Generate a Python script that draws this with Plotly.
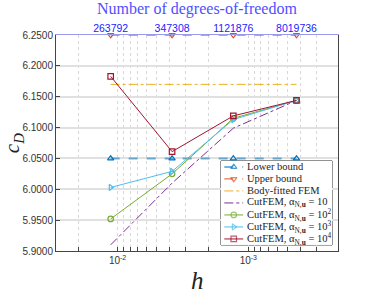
import numpy as np
import plotly.graph_objects as go

h = [0.01130, 0.00383, 0.001302, 0.000428]
dof_labels = ["263792", "347308", "1121876", "8019736"]
lower = [6.05, 6.05, 6.05, 6.05]
upper = [6.25, 6.25, 6.25, 6.25]
body_fitted = [6.17, 6.17, 6.17, 6.17]
cut10 = [5.910, 6.010, 6.099, 6.144]
cut100 = [5.952, 6.025, 6.115, 6.144]
cut1000 = [6.003, 6.029, 6.113, 6.144]
cut10000 = [6.183, 6.061, 6.119, 6.144]
y_ticks = [5.90, 5.95, 6.00, 6.05, 6.10, 6.15, 6.20, 6.25]

C_BLUE = "rgb(0,114,189)"
C_ORANGE = "rgb(217,83,25)"
C_YELLOW = "rgb(237,177,32)"
C_PURPLE = "rgb(126,47,142)"
C_GREEN = "rgb(119,172,48)"
C_CYAN = "rgb(77,190,238)"
C_RED = "rgb(162,20,47)"

series = [
    ("Lower bound", lower, C_BLUE, "rgba(0,114,189,0.55)", "dash", "triangle-up-open", 2),
    ("Upper bound", upper, C_ORANGE, "rgba(217,83,25,0.8)", "dash", "triangle-down-open", 1.3),
    ("Body-fitted FEM", body_fitted, C_YELLOW, C_YELLOW, "dashdot", None, 1),
    ("CutFEM, α<sub>N,<b>u</b></sub> = 10", cut10, C_PURPLE, C_PURPLE, "dashdot", None, 1),
    ("CutFEM, α<sub>N,<b>u</b></sub> = 10<sup>2</sup>", cut100, C_GREEN, C_GREEN, "solid", "circle-open", 1),
    ("CutFEM, α<sub>N,<b>u</b></sub> = 10<sup>3</sup>", cut1000, C_CYAN, C_CYAN, "solid", "triangle-right-open", 1),
    ("CutFEM, α<sub>N,<b>u</b></sub> = 10<sup>4</sup>", cut10000, C_RED, C_RED, "solid", "square-open", 1),
]

fig = go.Figure()
for name, ys, col, lcol, dash, sym, w in series:
    kw = dict(x=h, y=ys, name=name, line=dict(color=lcol, dash=dash, width=w),
              cliponaxis=False, showlegend=False)
    if sym:
        kw["mode"] = "lines+markers"
        kw["marker"] = dict(symbol=sym, size=5.5, color=col, line=dict(width=1.2, color=col))
    else:
        kw["mode"] = "lines"
    fig.add_trace(go.Scatter(**kw))

# hidden trace for top axis
fig.add_trace(go.Scatter(x=h, y=upper, xaxis="x2", mode="lines", line=dict(width=0),
                         showlegend=False, hoverinfo="skip"))

# manual compact legend drawn in its own small axes
n = len(series)
leg_x0, leg_x1, leg_y0, leg_y1 = 0.585, 0.979, 0.028, 0.417
fig.add_shape(type="rect", xref="paper", yref="paper", x0=leg_x0, x1=leg_x1,
              y0=leg_y0, y1=leg_y1, fillcolor="white",
              line=dict(color="#333", width=1), layer="between")
for i, (name, ys, col, lcol, dash, sym, w) in enumerate(series):
    row = i + 0.5
    kw = dict(x=[0.03, 0.115, 0.2], y=[row, row, row], xaxis="x3", yaxis="y3",
              line=dict(color=lcol, dash=dash, width=w), showlegend=False,
              hoverinfo="skip", cliponaxis=False)
    if sym:
        kw["mode"] = "lines+markers"
        kw["marker"] = dict(symbol=sym, size=[0, 5.5, 0], color=col,
                            line=dict(width=1.2, color=col))
    else:
        kw["mode"] = "lines"
    fig.add_trace(go.Scatter(**kw))
    fig.add_annotation(x=0.215, y=row, xref="x3", yref="y3", text=name, showarrow=False,
                       xanchor="left", yanchor="middle",
                       font=dict(family="Liberation Serif", size=10.5, color="#222"))

# axis titles as annotations (paper coords relative to plot area)
fig.add_annotation(x=0.5, y=-0.135, xref="paper", yref="paper", text="<i>h</i>",
                   showarrow=False, xanchor="center", yanchor="middle",
                   font=dict(family="Liberation Serif", size=25, color="#222"))
fig.add_annotation(x=-0.152, y=0.5, xref="paper", yref="paper",
                   text="<i>c</i><sub><i>D</i></sub>", textangle=-90,
                   showarrow=False, xanchor="center", yanchor="middle",
                   font=dict(family="Liberation Serif", size=21, color="#222"))
fig.add_annotation(x=0.5, y=1.12, xref="paper", yref="paper",
                   text="Number of degrees-of-freedom",
                   showarrow=False, xanchor="center", yanchor="middle",
                   font=dict(family="Liberation Serif", size=16, color="#4f4fff"))

xr = [np.log10(0.0296), np.log10(2.06e-4)]
minor_vals = []
labels = []
for k in [-2, -3, -4]:
    for m in range(1, 10):
        v = m * 10.0 ** k
        minor_vals.append(v)
        labels.append(f"10<sup>{k}</sup>" if m == 1 and k in (-2, -3) else "")

fig.update_layout(
    width=374, height=297,
    margin=dict(l=56, r=36, t=35, b=46),
    paper_bgcolor="white", plot_bgcolor="white",
    showlegend=False,
    xaxis=dict(type="log", range=xr, tickvals=minor_vals, ticktext=labels,
               showgrid=True, gridcolor="#d8d8d8", griddash="dot", gridwidth=1,
               ticks="inside", ticklen=4, tickcolor="#444", automargin=False,
               showline=True, linecolor="#444", linewidth=1, mirror=False,
               tickfont=dict(family="Liberation Sans", size=10, color="#333"),
               zeroline=False),
    xaxis2=dict(type="log", range=xr, overlaying="x", side="top", anchor="y",
                tickvals=h, ticktext=dof_labels, showgrid=False, automargin=False,
                ticks="", showline=True, linecolor="#9999ee", linewidth=1,
                ticklabelstandoff=-2,
                tickfont=dict(family="Liberation Sans", size=10.5, color="#2222ff")),
    yaxis=dict(range=[5.90, 6.25], tickvals=y_ticks,
               ticktext=[f"{v:.4f}" for v in y_ticks], automargin=False,
               showgrid=True, gridcolor="#e0e0e0", gridwidth=1.5,
               ticks="inside", ticklen=4, tickcolor="#444",
               showline=True, linecolor="#444", linewidth=1, mirror=True,
               tickfont=dict(family="Liberation Sans", size=10, color="#333"),
               zeroline=False),
    xaxis3=dict(domain=[leg_x0, leg_x1], range=[0, 1], visible=False, fixedrange=True,
                anchor="y3"),
    yaxis3=dict(domain=[leg_y0, leg_y1], range=[n, 0], visible=False, fixedrange=True,
                anchor="x3"),
)
fig.write_html("out.html", config={"displayModeBar": False},
               post_script="document.body.style.margin='0';document.body.style.overflow='hidden';")
